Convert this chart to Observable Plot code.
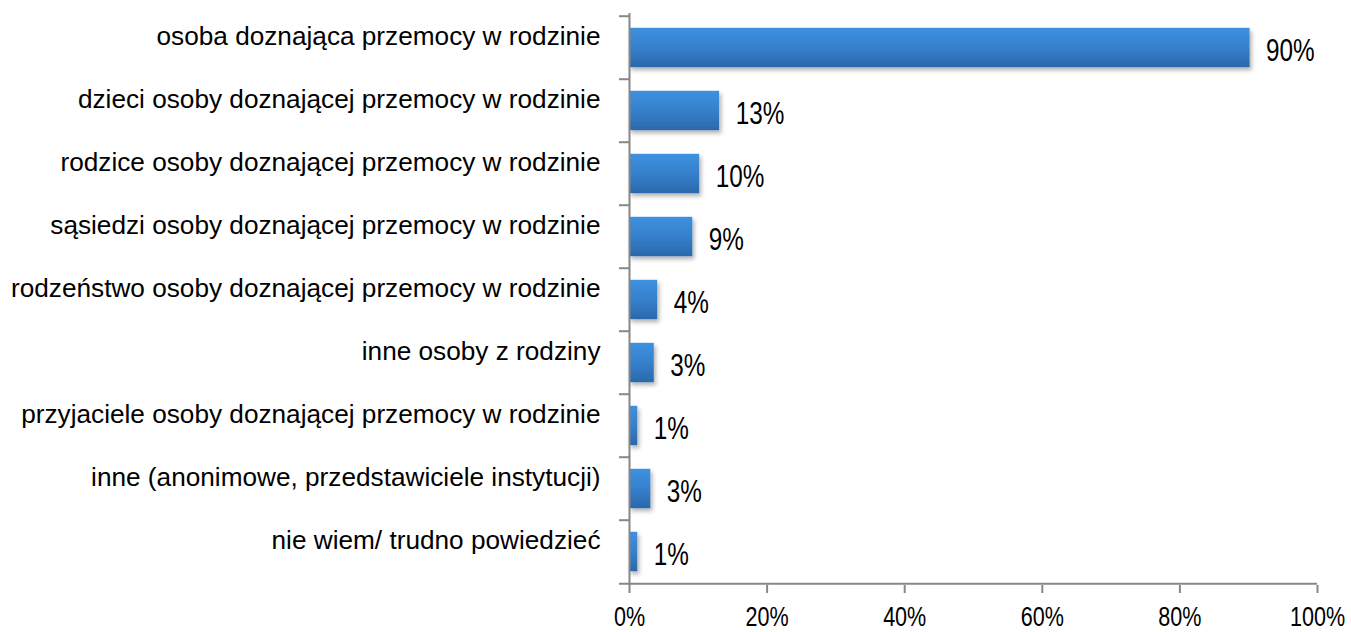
<!DOCTYPE html>
<html>
<head>
<meta charset="utf-8">
<script src="https://cdn.jsdelivr.net/npm/d3@7"></script>
<script src="https://cdn.jsdelivr.net/npm/@observablehq/plot@0.6"></script>
<style>
  html, body { margin: 0; padding: 0; background: #fff; }
</style>
</head>
<body>
<div id="chart"></div>
<script>
const categories = [
  "osoba doznająca przemocy w rodzinie",
  "dzieci osoby doznającej przemocy w rodzinie",
  "rodzice osoby doznającej przemocy w rodzinie",
  "sąsiedzi osoby doznającej przemocy w rodzinie",
  "rodzeństwo osoby doznającej przemocy w rodzinie",
  "inne osoby z rodziny",
  "przyjaciele osoby doznającej przemocy w rodzinie",
  "inne (anonimowe, przedstawiciele instytucji)",
  "nie wiem/ trudno powiedzieć"
];
const values = [90.2, 13.1, 10.2, 9.2, 4.1, 3.6, 1.2, 3.1, 1.2];
const valueLabels = ["90%", "13%", "10%", "9%", "4%", "3%", "1%", "3%", "1%"];
const xTicks = [0, 20, 40, 60, 80, 100];

const data = categories.map((c, i) => ({category: c, value: values[i], label: valueLabels[i]}));

const W = 1351, H = 632, mt = 13, mb = 47, ml = 629, mr = 34;
const band = (H - mt - mb) / categories.length;
const gray = "#878787";
const font = "'Liberation Sans', Arial, sans-serif";

const chart = Plot.plot({
  width: W, height: H,
  marginTop: mt, marginBottom: mb, marginLeft: ml, marginRight: mr,
  x: {domain: [0, 100], axis: null},
  y: {domain: categories, padding: 0, axis: null},
  style: {fontFamily: font, background: "white", color: "black"},
  marks: [
    Plot.barX(data, {x: "value", y: "category", fill: "url(#barGrad)", insetTop: 11.8, insetBottom: 11.8}),
    Plot.ruleX([0], {stroke: gray, strokeWidth: 2}),
    Plot.ruleY(categories, {y: d => d, x1: 0, x2: 0, insetLeft: -10, dy: -band / 2, stroke: gray, strokeWidth: 2}),
    Plot.ruleY([categories[categories.length - 1]], {y: d => d, x1: 0, x2: 100, insetLeft: -10, dy: band / 2, stroke: gray, strokeWidth: 2}),
    Plot.axisX({ticks: xTicks, tickFormat: d => d + "%", tickSize: 8, tickPadding: 13, fontSize: 28, stroke: gray, strokeWidth: 2, fill: "black", label: null}),
    Plot.axisY({tickSize: 0, tickPadding: 29, fontSize: 26.2, dy: -11, fill: "black", label: null}),
    Plot.text(data, {x: "value", y: "category", text: "label", textAnchor: "start", dx: 16, dy: 3, fontSize: 32, fill: "black"})
  ]
});

const svg = d3.select(chart);
const defs = svg.insert("defs", ":first-child");
const grad = defs.append("linearGradient").attr("id", "barGrad").attr("x1", 0).attr("y1", 0).attr("x2", 0).attr("y2", 1);
grad.append("stop").attr("offset", "0%").attr("stop-color", "#3d91e0");
grad.append("stop").attr("offset", "50%").attr("stop-color", "#3680cc");
grad.append("stop").attr("offset", "100%").attr("stop-color", "#2a68aa");
const f = defs.append("filter").attr("id", "shadow").attr("x", "-10%").attr("y", "-20%").attr("width", "130%").attr("height", "160%");
f.append("feDropShadow").attr("dx", 2).attr("dy", 3).attr("stdDeviation", 2.2).attr("flood-color", "#000").attr("flood-opacity", 0.3);
svg.select("g[aria-label='bar']").attr("filter", "url(#shadow)");

// condensed look of the numeric labels (horizontal squeeze around each anchor)
function squeeze(sel, k) {
  sel.each(function() {
    const t = this.getAttribute("transform") || "";
    const xa = this.getAttribute("x");
    let x = 0;
    if (xa !== null && !isNaN(+xa)) { x = +xa; this.removeAttribute("x"); }
    this.setAttribute("transform", `${t} translate(${x},0) scale(${k},1)`);
  });
}
squeeze(svg.selectAll("g[aria-label='text'] text"), 0.76);
squeeze(svg.selectAll("g[aria-label='x-axis tick label'] text"), 0.77);

document.getElementById("chart").appendChild(chart);
</script>
</body>
</html>
